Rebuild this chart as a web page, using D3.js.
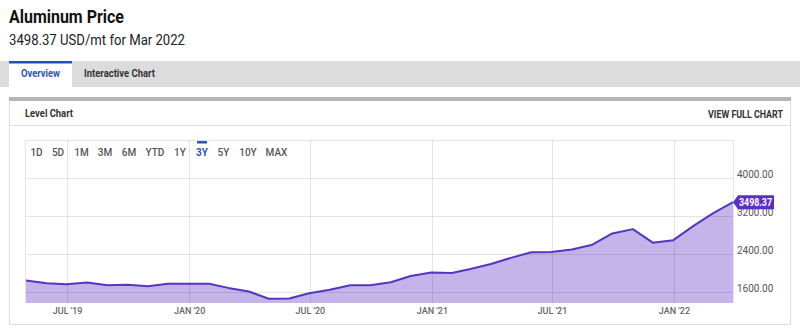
<!DOCTYPE html>
<html><head><meta charset="utf-8">
<script src="https://cdn.jsdelivr.net/npm/d3@7"></script>
<style>
html,body{margin:0;padding:0;background:#fff;}
svg{display:block;font-family:Roboto,"Noto Sans",sans-serif;}
</style></head>
<body><svg id="c" width="800" height="336"></svg>
<script>
const months = ["2019-04","2019-05","2019-06","2019-07","2019-08","2019-09","2019-10","2019-11","2019-12",
"2020-01","2020-02","2020-03","2020-04","2020-05","2020-06","2020-07","2020-08","2020-09","2020-10","2020-11","2020-12",
"2021-01","2021-02","2021-03","2021-04","2021-05","2021-06","2021-07","2021-08","2021-09","2021-10","2021-11","2021-12",
"2022-01","2022-02","2022-03"];
const prices = [1850,1790,1768,1805,1748,1758,1730,1782,1782,
1782,1693,1618,1465,1468,1580,1656,1748,1750,1812,1945,2018,
2006,2090,2196,2325,2443,2447,2500,2602,2840,2930,2645,2698,
3005,3255,3498.37];
const yTicks = [1600,2400,3200,4000,4800];
const yTickLabels = ["1600.00","2400.00","3200.00","4000.00",""];
const xTickDates = ["2019-07-01","2020-01-01","2020-07-01","2021-01-01","2021-07-01","2022-01-01"];
const xTickLabels = ["JUL '19","JAN '20","JUL '20","JAN '21","JUL '21","JAN '22"];
const ranges = ["1D","5D","1M","3M","6M","YTD","1Y","3Y","5Y","10Y","MAX"];
const activeRange = "3Y";
const lastLabel = "3498.37";

// month-end dates
const dates = months.map(m => { const [y,mo] = m.split("-").map(Number); return new Date(y, mo, 0); });
const data = dates.map((d,i)=>({d, v:prices[i]}));

const svg = d3.select("#c");
svg.append("rect").attr("width",800).attr("height",336).attr("fill","#fff");

// header
svg.append("text").attr("x",9).attr("y",23).attr("font-size",18).attr("font-weight",700).attr("fill","#111")
  .attr("textLength",115).attr("lengthAdjust","spacingAndGlyphs").text("Aluminum Price");
svg.append("text").attr("x",9).attr("y",44.5).attr("font-size",15).attr("fill","#222")
  .attr("textLength",176).attr("lengthAdjust","spacingAndGlyphs").text("3498.37 USD/mt for Mar 2022");

// tabs
svg.append("rect").attr("x",0).attr("y",61).attr("width",800).attr("height",26).attr("fill","#dcdcdc");
svg.append("rect").attr("x",9).attr("y",61).attr("width",63).attr("height",26).attr("fill","#fff");
svg.append("rect").attr("x",9).attr("y",61).attr("width",63).attr("height",2.5).attr("fill","#2050c0");
svg.append("text").attr("x",21).attr("y",77).attr("font-size",11).attr("font-weight",700).attr("fill","#2b55b5")
  .attr("textLength",39).attr("lengthAdjust","spacingAndGlyphs").text("Overview");
svg.append("text").attr("x",84).attr("y",77).attr("font-size",11).attr("font-weight",700).attr("fill","#333")
  .attr("textLength",71).attr("lengthAdjust","spacingAndGlyphs").text("Interactive Chart");

// panel
svg.append("rect").attr("x",9.5).attr("y",97.5).attr("width",781).attr("height",227).attr("fill","#fff").attr("stroke","#dedede");
svg.append("rect").attr("x",9).attr("y",97).attr("width",782).attr("height",4).attr("fill","#b5b5b5");
svg.append("line").attr("x1",10).attr("x2",790).attr("y1",125.5).attr("y2",125.5).attr("stroke","#dedede");
svg.append("text").attr("x",25).attr("y",117).attr("font-size",11).attr("font-weight",700).attr("fill","#333")
  .attr("textLength",48).attr("lengthAdjust","spacingAndGlyphs").text("Level Chart");
svg.append("text").attr("x",783).attr("y",118).attr("text-anchor","end").attr("font-size",10.5).attr("font-weight",700).attr("fill","#333")
  .attr("textLength",75).attr("lengthAdjust","spacingAndGlyphs").text("VIEW FULL CHART");

// scales
const x = d3.scaleTime().domain([dates[0], dates[dates.length-1]]).range([26,733]);
const y = d3.scaleLinear().domain([1375,4800]).range([303,140.3]);

// area
svg.append("path").datum(data)
  .attr("d", d3.area().x(d=>x(d.d)).y0(y(1375)).y1(d=>y(d.v)))
  .attr("fill","#c5b4ea");

// gridlines
const g = svg.append("g");
yTicks.forEach(t=>{
  g.append("line").attr("x1",26).attr("x2",733).attr("y1",Math.round(y(t))+0.5).attr("y2",Math.round(y(t))+0.5)
   .attr("stroke","rgba(0,0,0,0.1)");
});
xTickDates.forEach(s=>{
  const xx = Math.round(x(new Date(s+"T00:00:00")))+0.5;
  g.append("line").attr("x1",xx).attr("x2",xx).attr("y1",140).attr("y2",303).attr("stroke","rgba(0,0,0,0.1)");
});
g.append("line").attr("x1",25.5).attr("x2",25.5).attr("y1",140).attr("y2",303).attr("stroke","rgba(0,0,0,0.1)");
g.append("line").attr("x1",733.5).attr("x2",733.5).attr("y1",140).attr("y2",303).attr("stroke","rgba(0,0,0,0.1)");

// line
svg.append("path").datum(data)
  .attr("d", d3.line().x(d=>x(d.d)).y(d=>y(d.v)))
  .attr("fill","none").attr("stroke","#5436c2").attr("stroke-width",2).attr("stroke-linejoin","round");

// y axis labels
const yAxis = d3.axisRight(y).tickValues(yTicks.slice(0,4)).tickSize(0).tickPadding(0)
  .tickFormat((d,i)=>yTickLabels[i]);
const ya = svg.append("g").attr("transform","translate(737,-4)").call(yAxis);
ya.select(".domain").remove();
ya.selectAll("text").attr("font-size",10).attr("fill","#555").attr("font-family","Roboto,sans-serif");

// x axis labels
const xAxis = d3.axisBottom(x).tickValues(xTickDates.map(s=>new Date(s+"T00:00:00"))).tickSize(0).tickPadding(0)
  .tickFormat((d,i)=>xTickLabels[i]);
const xa = svg.append("g").attr("transform","translate(0,308)").call(xAxis);
xa.select(".domain").remove();
xa.selectAll("text").attr("font-size",9).attr("font-weight",500).attr("fill","#666").attr("font-family","Roboto,sans-serif");

// range buttons
const rx = [36.5,58,81.5,105,129,155,180,202,223.5,248,276.5];
ranges.forEach((r,i)=>{
  svg.append("text").attr("x",rx[i]).attr("y",156).attr("text-anchor","middle").attr("font-size",10)
    .attr("font-weight", r===activeRange?700:500)
    .attr("fill", r===activeRange?"#2b55b5":"#555").text(r);
});
svg.append("rect").attr("x",197).attr("y",141).attr("width",10).attr("height",2.5).attr("fill","#2b55b5");

// last value label
const lx = x(dates[dates.length-1]), ly = y(prices[prices.length-1]);
svg.append("path")
  .attr("d",`M${lx},${ly} L${lx+5},${ly-7} L${lx+41},${ly-7} L${lx+41},${ly+7} L${lx+5},${ly+7} Z`)
  .attr("fill","#5a2fc8");
svg.append("text").attr("x",lx+6).attr("y",ly+3.5).attr("font-size",10).attr("font-weight",700)
  .attr("fill","#fff").attr("textLength",33).attr("lengthAdjust","spacingAndGlyphs").text(lastLabel);
</script></body></html>
